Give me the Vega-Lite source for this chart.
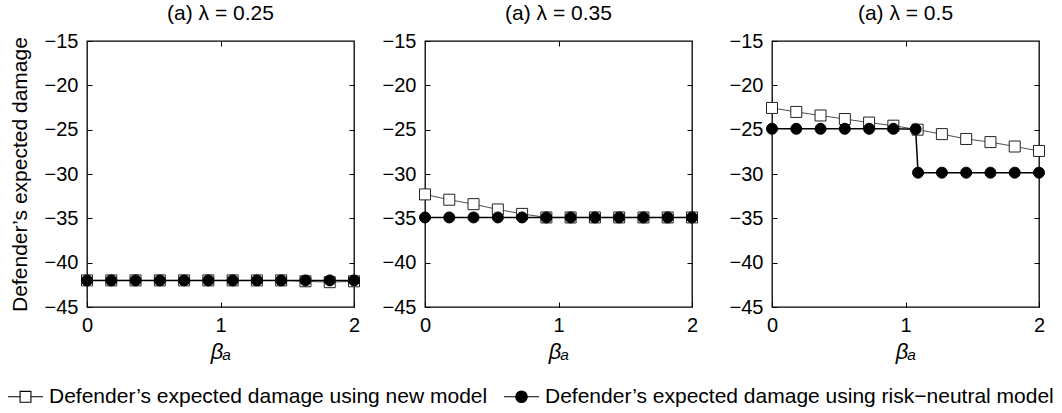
{
  "$schema": "https://vega.github.io/schema/vega-lite/v6.json",
  "padding": {"left": 7, "top": 2, "right": 5, "bottom": 5},
  "background": "white",
  "config": {
    "font": "Liberation Sans",
    "view": {"stroke": "black", "strokeWidth": 1.3},
    "axis": {"domain": false, "grid": false, "labelFontSize": 20, "labelColor": "black", "tickColor": "black", "tickSize": -5, "labelFlush": false, "labelOverlap": false, "titleFontSize": 21, "titleColor": "black", "titleFontWeight": "normal"},
    "axisX": {"labelPadding": 13, "format": "d"},
    "axisY": {"labelPadding": 14},
    "title": {"fontSize": 21, "fontWeight": "normal", "color": "black", "offset": 7}
  },
  "datasets": {
    "d": [
      {"lam": "0.25", "m": "new", "b": 0, "v": -42.0},
      {"lam": "0.25", "m": "new", "b": 0.1818, "v": -42.0},
      {"lam": "0.25", "m": "new", "b": 0.3636, "v": -42.0},
      {"lam": "0.25", "m": "new", "b": 0.5455, "v": -42.0},
      {"lam": "0.25", "m": "new", "b": 0.7273, "v": -42.0},
      {"lam": "0.25", "m": "new", "b": 0.9091, "v": -42.0},
      {"lam": "0.25", "m": "new", "b": 1.0909, "v": -42.0},
      {"lam": "0.25", "m": "new", "b": 1.2727, "v": -42.0},
      {"lam": "0.25", "m": "new", "b": 1.4545, "v": -42.0},
      {"lam": "0.25", "m": "new", "b": 1.6364, "v": -42.1},
      {"lam": "0.25", "m": "new", "b": 1.8182, "v": -42.2},
      {"lam": "0.25", "m": "new", "b": 2.0, "v": -42.1},
      {"lam": "0.25", "m": "rn", "b": 0, "v": -42.0},
      {"lam": "0.25", "m": "rn", "b": 0.1818, "v": -42.0},
      {"lam": "0.25", "m": "rn", "b": 0.3636, "v": -42.0},
      {"lam": "0.25", "m": "rn", "b": 0.5455, "v": -42.0},
      {"lam": "0.25", "m": "rn", "b": 0.7273, "v": -42.0},
      {"lam": "0.25", "m": "rn", "b": 0.9091, "v": -42.0},
      {"lam": "0.25", "m": "rn", "b": 1.0909, "v": -42.0},
      {"lam": "0.25", "m": "rn", "b": 1.2727, "v": -42.0},
      {"lam": "0.25", "m": "rn", "b": 1.4545, "v": -42.0},
      {"lam": "0.25", "m": "rn", "b": 1.6364, "v": -42.0},
      {"lam": "0.25", "m": "rn", "b": 1.8182, "v": -42.0},
      {"lam": "0.25", "m": "rn", "b": 2.0, "v": -42.0},
      {"lam": "0.35", "m": "new", "b": 0, "v": -32.3},
      {"lam": "0.35", "m": "new", "b": 0.1818, "v": -32.9},
      {"lam": "0.35", "m": "new", "b": 0.3636, "v": -33.4},
      {"lam": "0.35", "m": "new", "b": 0.5455, "v": -34.0},
      {"lam": "0.35", "m": "new", "b": 0.7273, "v": -34.5},
      {"lam": "0.35", "m": "new", "b": 0.9091, "v": -34.9},
      {"lam": "0.35", "m": "new", "b": 1.0909, "v": -34.9},
      {"lam": "0.35", "m": "new", "b": 1.2727, "v": -34.9},
      {"lam": "0.35", "m": "new", "b": 1.4545, "v": -34.9},
      {"lam": "0.35", "m": "new", "b": 1.6364, "v": -34.9},
      {"lam": "0.35", "m": "new", "b": 1.8182, "v": -34.9},
      {"lam": "0.35", "m": "new", "b": 2.0, "v": -34.9},
      {"lam": "0.35", "m": "rn", "b": 0, "v": -34.9},
      {"lam": "0.35", "m": "rn", "b": 0.1818, "v": -34.9},
      {"lam": "0.35", "m": "rn", "b": 0.3636, "v": -34.9},
      {"lam": "0.35", "m": "rn", "b": 0.5455, "v": -34.9},
      {"lam": "0.35", "m": "rn", "b": 0.7273, "v": -34.9},
      {"lam": "0.35", "m": "rn", "b": 0.9091, "v": -34.9},
      {"lam": "0.35", "m": "rn", "b": 1.0909, "v": -34.9},
      {"lam": "0.35", "m": "rn", "b": 1.2727, "v": -34.9},
      {"lam": "0.35", "m": "rn", "b": 1.4545, "v": -34.9},
      {"lam": "0.35", "m": "rn", "b": 1.6364, "v": -34.9},
      {"lam": "0.35", "m": "rn", "b": 1.8182, "v": -34.9},
      {"lam": "0.35", "m": "rn", "b": 2.0, "v": -34.9},
      {"lam": "0.5", "m": "new", "b": 0, "v": -22.55},
      {"lam": "0.5", "m": "new", "b": 0.1818, "v": -23.0},
      {"lam": "0.5", "m": "new", "b": 0.3636, "v": -23.4},
      {"lam": "0.5", "m": "new", "b": 0.5455, "v": -23.8},
      {"lam": "0.5", "m": "new", "b": 0.7273, "v": -24.2},
      {"lam": "0.5", "m": "new", "b": 0.9091, "v": -24.55},
      {"lam": "0.5", "m": "new", "b": 1.0909, "v": -25.0},
      {"lam": "0.5", "m": "new", "b": 1.2727, "v": -25.5},
      {"lam": "0.5", "m": "new", "b": 1.4545, "v": -26.05},
      {"lam": "0.5", "m": "new", "b": 1.6364, "v": -26.4},
      {"lam": "0.5", "m": "new", "b": 1.8182, "v": -26.9},
      {"lam": "0.5", "m": "new", "b": 2.0, "v": -27.4},
      {"lam": "0.5", "m": "rn", "b": 0, "v": -24.9},
      {"lam": "0.5", "m": "rn", "b": 0.1818, "v": -24.9},
      {"lam": "0.5", "m": "rn", "b": 0.3636, "v": -24.9},
      {"lam": "0.5", "m": "rn", "b": 0.5455, "v": -24.9},
      {"lam": "0.5", "m": "rn", "b": 0.7273, "v": -24.9},
      {"lam": "0.5", "m": "rn", "b": 0.9091, "v": -24.9},
      {"lam": "0.5", "m": "rn", "b": 1.076, "v": -24.95},
      {"lam": "0.5", "m": "rn", "b": 1.094, "v": -29.85},
      {"lam": "0.5", "m": "rn", "b": 1.2727, "v": -29.85},
      {"lam": "0.5", "m": "rn", "b": 1.4545, "v": -29.85},
      {"lam": "0.5", "m": "rn", "b": 1.6364, "v": -29.85},
      {"lam": "0.5", "m": "rn", "b": 1.8182, "v": -29.85},
      {"lam": "0.5", "m": "rn", "b": 2.0, "v": -29.85}
    ]
  },
  "bounds": "flush",
  "spacing": 71,
  "hconcat": [
    {
      "width": 267, "height": 266,
      "title": "(a) λ = 0.25",
      "data": {"name": "d"},
      "transform": [{"filter": "datum.lam === '0.25'"}],
      "resolve": {"axis": {"x": "independent", "y": "independent"}},
      "layer": [
        {
          "transform": [{"filter": "datum.m === 'new'"}],
          "mark": {"type": "line", "stroke": "#222", "strokeWidth": 0.8},
          "encoding": {
            "x": {"field": "b", "type": "quantitative", "scale": {"domain": [0, 2], "nice": false}, "axis": {"values": [0, 1, 2], "title": "βₐ", "titleFontStyle": "italic", "titleFontSize": 22, "titlePadding": 6}},
            "y": {"field": "v", "type": "quantitative", "scale": {"domain": [-45, -15], "nice": false, "zero": false}, "axis": {"values": [-45, -40, -35, -30, -25, -20, -15], "title": "Defender’s expected damage", "titlePadding": 14}}
          }
        },
        {
          "transform": [{"filter": "datum.m === 'rn'"}],
          "mark": {"type": "line", "stroke": "black", "strokeWidth": 1.5},
          "encoding": {
            "x": {"field": "b", "type": "quantitative", "scale": {"domain": [0, 2], "nice": false}, "axis": {"orient": "top", "values": [1], "labels": false, "title": null}},
            "y": {"field": "v", "type": "quantitative", "scale": {"domain": [-45, -15], "nice": false, "zero": false}, "axis": {"orient": "right", "values": [-40, -35, -30, -25, -20], "labels": false, "title": null}}
          }
        },
        {
          "transform": [{"filter": "datum.m === 'new'"}],
          "mark": {"type": "point", "shape": "square", "filled": true, "fill": "white", "stroke": "#222", "strokeWidth": 1, "opacity": 1, "size": 121},
          "encoding": {
            "x": {"field": "b", "type": "quantitative", "axis": null},
            "y": {"field": "v", "type": "quantitative", "axis": null}
          }
        },
        {
          "transform": [{"filter": "datum.m === 'rn'"}],
          "mark": {"type": "point", "shape": "circle", "filled": true, "fill": "black", "stroke": "black", "strokeWidth": 1, "opacity": 1, "size": 121},
          "encoding": {
            "x": {"field": "b", "type": "quantitative", "axis": null},
            "y": {"field": "v", "type": "quantitative", "axis": null}
          }
        },
        {
          "transform": [{"filter": "datum.v > 0"}],
          "mark": {"type": "point", "filled": false, "strokeWidth": 1.1, "opacity": 1},
          "encoding": {
            "x": {"field": "b", "type": "quantitative", "axis": null},
            "y": {"field": "v", "type": "quantitative", "axis": null},
            "stroke": {"field": "m", "type": "nominal", "scale": {"domain": ["new", "rn"], "range": ["black", "black"]},
              "legend": {"title": null, "orient": "none", "legendX": -80, "legendY": 337, "direction": "horizontal", "labelFontSize": 21, "labelColor": "black", "labelLimit": 600, "symbolSize": 1225, "symbolStrokeWidth": 1.1, "labelOffset": 5, "columnPadding": 13,
                "labelExpr": "datum.value === 'new' ? 'Defender’s expected damage using new model' : 'Defender’s expected damage using risk−neutral model'"}},
            "shape": {"field": "m", "type": "nominal",
              "scale": {"domain": ["new", "rn"], "range": ["M-1,0H-0.31M0.31,0H1M-0.31,-0.31H0.31V0.31H-0.31Z", "M-1,0H-0.33M0.33,0H1M-0.33,0A0.33,0.33 0 1,0 0.33,0A0.33,0.33 0 1,0 -0.33,0ZM-0.27,0A0.27,0.27 0 1,0 0.27,0A0.27,0.27 0 1,0 -0.27,0ZM-0.21,0A0.21,0.21 0 1,0 0.21,0A0.21,0.21 0 1,0 -0.21,0ZM-0.15,0A0.15,0.15 0 1,0 0.15,0A0.15,0.15 0 1,0 -0.15,0ZM-0.09,0A0.09,0.09 0 1,0 0.09,0A0.09,0.09 0 1,0 -0.09,0ZM-0.04,0A0.04,0.04 0 1,0 0.04,0A0.04,0.04 0 1,0 -0.04,0Z"]},
              "legend": {"title": null, "orient": "none", "legendX": -80, "legendY": 337, "direction": "horizontal", "labelFontSize": 21, "labelColor": "black", "labelLimit": 600, "symbolSize": 1225, "symbolStrokeWidth": 1.1, "labelOffset": 5, "columnPadding": 13,
                "labelExpr": "datum.value === 'new' ? 'Defender’s expected damage using new model' : 'Defender’s expected damage using risk−neutral model'"}}
          }
        }
      ]
    },
    {
      "bounds": "flush",
      "spacing": 80,
      "hconcat": [
        {
          "width": 267, "height": 266,
          "title": "(a) λ = 0.35",
          "data": {"name": "d"},
          "transform": [{"filter": "datum.lam === '0.35'"}],
          "resolve": {"axis": {"x": "independent", "y": "independent"}},
          "layer": [
            {
              "transform": [{"filter": "datum.m === 'new'"}],
              "mark": {"type": "line", "stroke": "#222", "strokeWidth": 0.8},
              "encoding": {
                "x": {"field": "b", "type": "quantitative", "scale": {"domain": [0, 2], "nice": false}, "axis": {"values": [0, 1, 2], "title": "βₐ", "titleFontStyle": "italic", "titleFontSize": 22, "titlePadding": 6}},
                "y": {"field": "v", "type": "quantitative", "scale": {"domain": [-45, -15], "nice": false, "zero": false}, "axis": {"values": [-45, -40, -35, -30, -25, -20, -15], "title": null}}
              }
            },
            {
              "transform": [{"filter": "datum.m === 'rn'"}],
              "mark": {"type": "line", "stroke": "black", "strokeWidth": 1.5},
              "encoding": {
                "x": {"field": "b", "type": "quantitative", "scale": {"domain": [0, 2], "nice": false}, "axis": {"orient": "top", "values": [1], "labels": false, "title": null}},
                "y": {"field": "v", "type": "quantitative", "scale": {"domain": [-45, -15], "nice": false, "zero": false}, "axis": {"orient": "right", "values": [-40, -35, -30, -25, -20], "labels": false, "title": null}}
              }
            },
            {
              "transform": [{"filter": "datum.m === 'new'"}],
              "mark": {"type": "point", "shape": "square", "filled": true, "fill": "white", "stroke": "#222", "strokeWidth": 1, "opacity": 1, "size": 121},
              "encoding": {
                "x": {"field": "b", "type": "quantitative", "axis": null},
                "y": {"field": "v", "type": "quantitative", "axis": null}
              }
            },
            {
              "transform": [{"filter": "datum.m === 'rn'"}],
              "mark": {"type": "point", "shape": "circle", "filled": true, "fill": "black", "stroke": "black", "strokeWidth": 1, "opacity": 1, "size": 121},
              "encoding": {
                "x": {"field": "b", "type": "quantitative", "axis": null},
                "y": {"field": "v", "type": "quantitative", "axis": null}
              }
            }
          ]
        },
        {
          "width": 267, "height": 266,
          "title": "(a) λ = 0.5",
          "data": {"name": "d"},
          "transform": [{"filter": "datum.lam === '0.5'"}],
          "resolve": {"axis": {"x": "independent", "y": "independent"}},
          "layer": [
            {
              "transform": [{"filter": "datum.m === 'new'"}],
              "mark": {"type": "line", "stroke": "#222", "strokeWidth": 0.8},
              "encoding": {
                "x": {"field": "b", "type": "quantitative", "scale": {"domain": [0, 2], "nice": false}, "axis": {"values": [0, 1, 2], "title": "βₐ", "titleFontStyle": "italic", "titleFontSize": 22, "titlePadding": 6}},
                "y": {"field": "v", "type": "quantitative", "scale": {"domain": [-45, -15], "nice": false, "zero": false}, "axis": {"values": [-45, -40, -35, -30, -25, -20, -15], "title": null}}
              }
            },
            {
              "transform": [{"filter": "datum.m === 'rn'"}],
              "mark": {"type": "line", "stroke": "black", "strokeWidth": 1.5},
              "encoding": {
                "x": {"field": "b", "type": "quantitative", "scale": {"domain": [0, 2], "nice": false}, "axis": {"orient": "top", "values": [1], "labels": false, "title": null}},
                "y": {"field": "v", "type": "quantitative", "scale": {"domain": [-45, -15], "nice": false, "zero": false}, "axis": {"orient": "right", "values": [-40, -35, -30, -25, -20], "labels": false, "title": null}}
              }
            },
            {
              "transform": [{"filter": "datum.m === 'new'"}],
              "mark": {"type": "point", "shape": "square", "filled": true, "fill": "white", "stroke": "#222", "strokeWidth": 1, "opacity": 1, "size": 121},
              "encoding": {
                "x": {"field": "b", "type": "quantitative", "axis": null},
                "y": {"field": "v", "type": "quantitative", "axis": null}
              }
            },
            {
              "transform": [{"filter": "datum.m === 'rn'"}],
              "mark": {"type": "point", "shape": "circle", "filled": true, "fill": "black", "stroke": "black", "strokeWidth": 1, "opacity": 1, "size": 121},
              "encoding": {
                "x": {"field": "b", "type": "quantitative", "axis": null},
                "y": {"field": "v", "type": "quantitative", "axis": null}
              }
            }
          ]
        }
      ]
    }
  ]
}
